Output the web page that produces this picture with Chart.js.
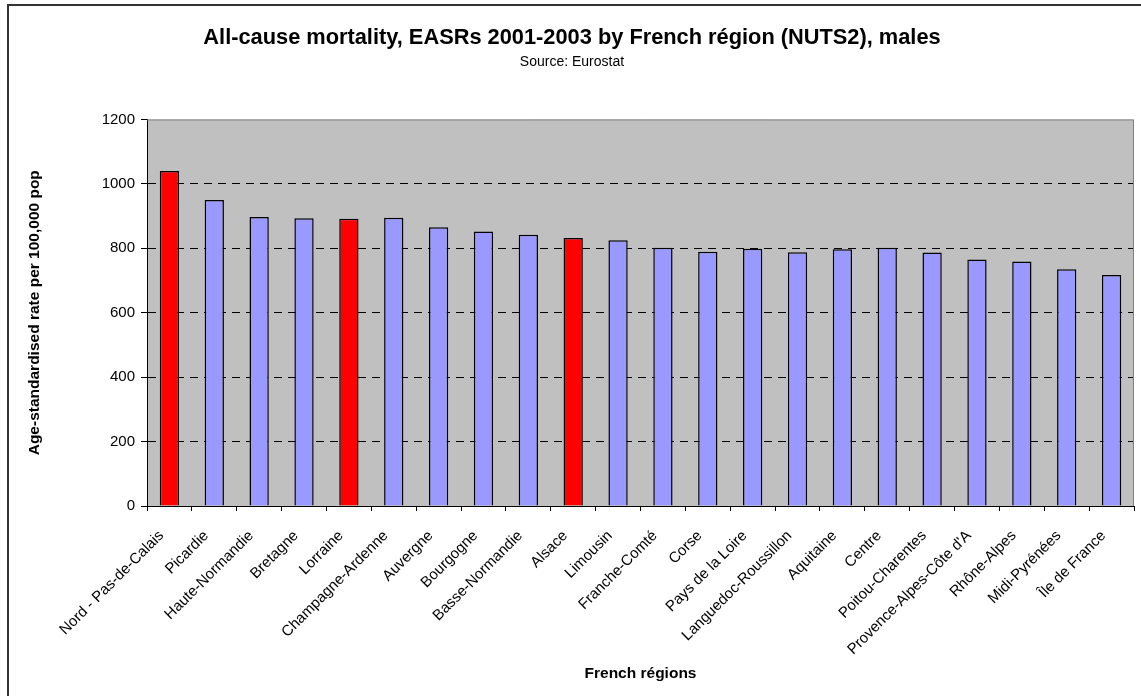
<!DOCTYPE html>
<html>
<head>
<meta charset="utf-8">
<script src="https://cdn.jsdelivr.net/npm/chart.js@4.4.1/dist/chart.umd.min.js"></script>
<style>
  html, body { margin: 0; padding: 0; background: #ffffff; }
  #wrap { width: 1141px; height: 696px; position: relative; }
</style>
</head>
<body>
<div id="wrap"><canvas id="c" width="1141" height="696"></canvas></div>
<script>
// ---- data ----
const regions = [
  'Nord - Pas-de-Calais', 'Picardie', 'Haute-Normandie', 'Bretagne', 'Lorraine',
  'Champagne-Ardenne', 'Auvergne', 'Bourgogne', 'Basse-Normandie', 'Alsace',
  'Limousin', 'Franche-Comté', 'Corse', 'Pays de la Loire', 'Languedoc-Roussillon',
  'Aquitaine', 'Centre', 'Poitou-Charentes', "Provence-Alpes-Côte d'A", 'Rhône-Alpes',
  'Midi-Pyrénées', 'Île de France'
];
const rates = [
  1040, 950, 897, 893, 892,
  895, 865, 852, 842, 832,
  825, 802, 789, 799, 788,
  797, 802, 787, 765, 759,
  735, 717
];
const highlighted = ['Nord - Pas-de-Calais', 'Lorraine', 'Alsace'];
const yTicks = [0, 200, 400, 600, 800, 1000, 1200];

const titleText = 'All-cause mortality, EASRs 2001-2003 by French région (NUTS2), males';
const subtitleText = 'Source: Eurostat';
const xTitle = 'French régions';
const yTitle = 'Age-standardised rate per 100,000 pop';

// ---- styles ----
const FONT = "'Liberation Sans', Arial, sans-serif";
const BAR_NORMAL = '#9999FF';
const BAR_HIGHLIGHT = '#FF0000';
const PLOT_BG = '#C0C0C0';

const barColors = regions.map(r => highlighted.includes(r) ? BAR_HIGHLIGHT : BAR_NORMAL);

const frame = {
  id: 'frame',
  beforeDraw(chart) {
    const { ctx, chartArea: a } = chart;
    ctx.save();
    ctx.fillStyle = '#ffffff';
    ctx.fillRect(0, 0, chart.width, chart.height);
    ctx.fillStyle = PLOT_BG;
    ctx.fillRect(a.left, a.top, a.right - a.left, a.bottom - a.top);
    ctx.restore();
  },
  beforeDatasetsDraw(chart) {
    const { ctx, chartArea: a } = chart;
    ctx.save();
    ctx.strokeStyle = '#808080';
    ctx.lineWidth = 1;
    ctx.beginPath();
    ctx.moveTo(a.left, a.top + 0.5);
    ctx.lineTo(a.right - 0.5, a.top + 0.5);
    ctx.lineTo(a.right - 0.5, a.bottom);
    ctx.stroke();
    ctx.restore();
  },
  afterDraw(chart) {
    const { ctx } = chart;
    ctx.save();
    ctx.strokeStyle = '#333333';
    ctx.lineWidth = 2;
    ctx.strokeRect(8, 5, chart.width + 20, chart.height + 20);
    ctx.restore();
  }
};

new Chart(document.getElementById('c'), {
  type: 'bar',
  data: {
    labels: regions,
    datasets: [{
      data: rates,
      backgroundColor: barColors,
      borderColor: '#000000',
      borderWidth: 1.5,
      barPercentage: 0.43,
      categoryPercentage: 1.0
    }]
  },
  options: {
    responsive: false,
    animation: false,
    devicePixelRatio: 1,
    layout: { padding: { left: 10, right: 7, top: 0, bottom: 8 } },
    plugins: {
      legend: { display: false },
      tooltip: { enabled: false },
      title: {
        display: true,
        text: titleText,
        color: '#000000',
        font: { family: FONT, size: 21.8, weight: 'bold' },
        padding: { top: 24.9, bottom: 2 }
      },
      subtitle: {
        display: true,
        text: subtitleText,
        color: '#000000',
        font: { family: FONT, size: 14, weight: 'normal' },
        padding: { top: 1, bottom: 48.6 }
      }
    },
    scales: {
      x: {
        offset: true,
        grid: {
          display: true,
          drawOnChartArea: false,
          drawTicks: true,
          tickLength: 5,
          tickColor: '#000000',
          offset: true
        },
        border: { display: true, color: '#000000', width: 1 },
        ticks: {
          autoSkip: false,
          maxRotation: 45,
          minRotation: 45,
          color: '#000000',
          padding: 16,
          labelOffset: -8,
          font: { family: FONT, size: 15 }
        },
        title: {
          display: true,
          text: xTitle,
          color: '#000000',
          font: { family: FONT, size: 15.5, weight: 'bold' },
          padding: { top: 0, bottom: 5 }
        },
        afterFit(scale) { scale.height = 182; }
      },
      y: {
        min: 0,
        max: 1200,
        afterBuildTicks(scale) { scale.ticks = yTicks.map(v => ({ value: v })); },
        grid: {
          display: true,
          drawOnChartArea: true,
          drawTicks: true,
          tickLength: 6,
          tickColor: '#000000',
          lineWidth: 1,
          color: (c) => (c.tick && c.tick.value === 1200) ? 'rgba(0,0,0,0)' : '#000000'
        },
        border: { display: true, color: '#000000', width: 1, dash: [8, 6] },
        ticks: {
          color: '#000000',
          padding: 6,
          font: { family: FONT, size: 15 },
          callback: (v) => String(v)
        },
        title: {
          display: true,
          text: yTitle,
          color: '#000000',
          font: { family: FONT, size: 15.5, weight: 'bold' },
          padding: { top: 15, bottom: 0 }
        },
        afterFit(scale) { scale.width = 137; }
      }
    }
  },
  plugins: [frame]
});
</script>
</body>
</html>
